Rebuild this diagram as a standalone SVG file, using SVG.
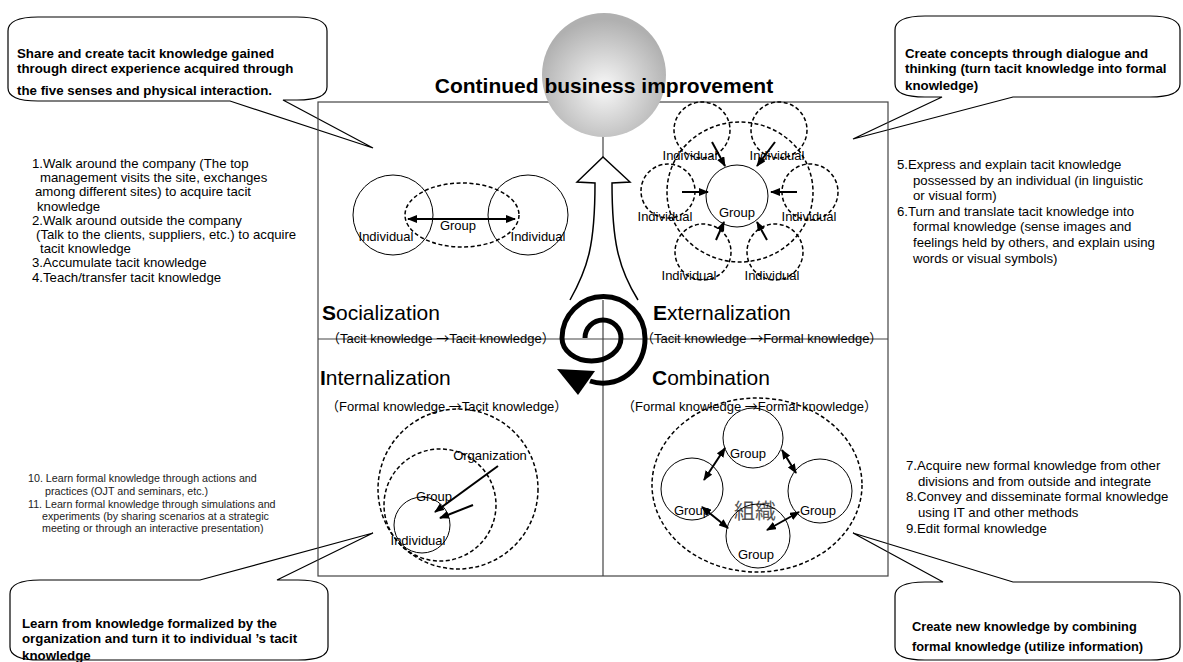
<svg xmlns="http://www.w3.org/2000/svg" width="1183" height="662" viewBox="0 0 1183 662">
<defs>
<style>
text{font-family:"Liberation Sans",Arial,sans-serif;fill:#000}
.b{font-weight:bold}
.c13{font-size:13.3px;font-weight:bold}
.lst{font-size:13.2px}
.sm{font-size:10.7px;fill:#222}
.lbl{font-size:13px;text-anchor:middle}
.q{font-size:21px}
.sub{font-size:13px;font-family:"Liberation Sans","Noto Sans CJK JP",sans-serif}
.cj{font-family:"Noto Sans CJK JP",sans-serif}
.solid{fill:none;stroke:#000;stroke-width:1}
.dash{fill:none;stroke:#000;stroke-width:1.5;stroke-dasharray:4 2.5}
.co{fill:#fff;stroke:#000;stroke-width:1.2}
.arr{fill:none;stroke:#000;stroke-width:2;marker-end:url(#ah)}
.darr{fill:none;stroke:#000;stroke-width:2;marker-end:url(#ah);marker-start:url(#ah)}
.fr{fill:none;stroke:#444;stroke-width:1.2}
</style>
<marker id="ah" viewBox="0 0 10 10" refX="9" refY="5" markerWidth="10" markerHeight="8" markerUnits="userSpaceOnUse" orient="auto-start-reverse" preserveAspectRatio="none"><path d="M0,0 L10,5 L0,10 z" fill="#000"/></marker>
<radialGradient id="sg" cx="50%" cy="60%" r="55%"><stop offset="0" stop-color="#f8f8f8"/><stop offset="1" stop-color="#b0b0b0"/></radialGradient>
</defs>
<rect width="1183" height="662" fill="#fff"/>

<g id="callout-tl">
<path class="co" d="M8,31 Q8,17 38,17 L297,17 Q327,17 327,31 L327,87 Q327,100 297,100 L283,100 L373,148 L230,101 L38,101 Q8,101 8,88 Z"/>
<text class="c13" x="17" y="58">Share and create tacit knowledge gained</text>
<text class="c13" x="17" y="73">through direct experience acquired through</text>
<text class="c13" x="17" y="95">the five senses and physical interaction.</text>
</g>
<g id="callout-tr">
<path class="co" d="M895,30 Q895,16 925,16 L1150,16 Q1180,16 1180,30 L1180,84 Q1180,97 1150,97 L1013,97 L853,139 L942,97 L925,97 Q895,97 895,84 Z"/>
<text class="c13" x="905" y="58">Create concepts through dialogue and</text>
<text class="c13" x="905" y="73">thinking (turn tacit knowledge into formal</text>
<text class="c13" x="905" y="90">knowledge)</text>
</g>
<g id="callout-bl">
<path class="co" d="M10,594 Q10,580 40,580 L200,580 L373,533 L277,580 L298,580 Q328,580 328,594 L328,647 Q328,660 298,660 L40,660 Q10,660 10,647 Z"/>
<text class="c13" x="22" y="628">Learn from knowledge formalized by the</text>
<text class="c13" x="22" y="643">organization and turn it to individual ’s tacit</text>
<text class="c13" x="22" y="660">knowledge</text>
</g>
<g id="callout-br">
<path class="co" d="M895,596 Q895,582 925,582 L943,582 L853,533 L1013,582 L1150,582 Q1180,582 1180,596 L1180,647 Q1180,660 1150,660 L925,660 Q895,660 895,647 Z"/>
<text class="b" style="font-size:12.8px" x="912" y="631">Create new knowledge by combining</text>
<text class="b" style="font-size:12.8px" x="912" y="651">formal knowledge (utilize information)</text>
</g>

<g id="frame">
<rect class="fr" x="318" y="102" width="570" height="474"/>
<line class="fr" x1="603" y1="102" x2="603" y2="576"/>
<line class="fr" x1="318" y1="339" x2="888" y2="339"/>
</g>

<g id="sphere">
<circle cx="604" cy="75" r="62" fill="url(#sg)"/>
</g>
<g id="title">
<text class="b" style="font-size:21px" x="604" y="93" text-anchor="middle">Continued business improvement</text>
</g>

<g id="big-arrow">
<path d="M570,300 C588,268 595,245 595,183 L577,182 L603,157 L630,182 L612,183 C612,240 618,268 638,300" fill="#fff" stroke="#000" stroke-width="1.5"/>
</g>

<g id="spiral">
<path d="M585,338 A18,18 0 0 1 621,338 A29.5,23 0 0 1 562,338 A41.5,41.5 0 0 1 645,338 A42,44 0 0 1 590,381" fill="none" stroke="#000" stroke-width="5"/>
<polygon points="557,369 595,371 578,395" fill="#000"/>
</g>

<g id="list-socialization">
<text class="lst" x="32" y="168">1.Walk around the company (The top</text>
<text class="lst" x="40" y="182.2">management visits the site, exchanges</text>
<text class="lst" x="35" y="196.4">among different sites) to acquire tacit</text>
<text class="lst" x="37" y="210.6">knowledge</text>
<text class="lst" x="32" y="224.8">2.Walk around outside the company</text>
<text class="lst" x="36" y="239">(Talk to the clients, suppliers, etc.) to acquire</text>
<text class="lst" x="40" y="253.2">tacit knowledge</text>
<text class="lst" x="32" y="267.4">3.Accumulate tacit knowledge</text>
<text class="lst" x="32" y="281.6">4.Teach/transfer tacit knowledge</text>
</g>
<g id="list-externalization">
<text class="lst" x="897" y="169">5.Express and explain tacit knowledge</text>
<text class="lst" x="913" y="184.6">possessed by an individual (in linguistic</text>
<text class="lst" x="913" y="200.2">or visual form)</text>
<text class="lst" x="897" y="215.8">6.Turn and translate tacit knowledge into</text>
<text class="lst" x="913" y="231.4">formal knowledge (sense images and</text>
<text class="lst" x="913" y="247">feelings held by others, and explain using</text>
<text class="lst" x="913" y="262.6">words or visual symbols)</text>
</g>
<g id="list-combination">
<text class="lst" x="906" y="470">7.Acquire new formal knowledge from other</text>
<text class="lst" x="918" y="485.7">divisions and from outside and integrate</text>
<text class="lst" x="906" y="501.4">8.Convey and disseminate formal knowledge</text>
<text class="lst" x="918" y="517">using IT and other methods</text>
<text class="lst" x="906" y="532.7">9.Edit formal knowledge</text>
</g>
<g id="list-internalization">
<text class="sm" x="28" y="482">10. Learn formal knowledge through actions and</text>
<text class="sm" x="45" y="494.5">practices (OJT and seminars, etc.)</text>
<text class="sm" x="28" y="508">11. Learn formal knowledge through simulations and</text>
<text class="sm" x="42" y="520">experiments (by sharing scenarios at a strategic</text>
<text class="sm" x="42" y="532">meeting or through an interactive presentation)</text>
</g>

<g id="quadrant-labels">
<text class="q" x="322" y="320"><tspan class="b">S</tspan>ocialization</text>
<text class="sub" x="327" y="343">（Tacit knowledge <tspan class="cj">→</tspan>Tacit knowledge）</text>
<text class="q" x="653" y="320"><tspan class="b">E</tspan>xternalization</text>
<text class="sub" x="641" y="343">（Tacit knowledge <tspan class="cj">→</tspan>Formal knowledge）</text>
<text class="q" x="320" y="385"><tspan class="b">I</tspan>nternalization</text>
<text class="sub" x="326" y="411">（Formal knowledge <tspan class="cj">→</tspan>Tacit knowledge）</text>
<text class="q" x="652" y="385"><tspan class="b">C</tspan>ombination</text>
<text class="sub" x="622" y="411">（Formal knowledge <tspan class="cj">→</tspan>Formal knowledge）</text>
</g>

<g id="soc-individual-left"><circle class="solid" cx="393" cy="215" r="40"/><text class="lbl" x="386" y="241">Individual</text></g>
<g id="soc-individual-right"><circle class="solid" cx="528" cy="215" r="40"/><text class="lbl" x="538" y="241">Individual</text></g>
<g id="soc-group"><ellipse class="dash" cx="462" cy="215" rx="57" ry="32"/><text class="lbl" x="458" y="230">Group</text></g>

<g id="ext-group"><ellipse class="dash" cx="740" cy="192" rx="73" ry="70"/><circle class="solid" cx="737" cy="196" r="31"/><text class="lbl" x="737" y="217">Group</text></g>
<g id="ext-ind-tl"><circle class="dash" cx="702" cy="130" r="28"/><text class="lbl" x="690" y="160">Individual</text></g>
<g id="ext-ind-tr"><circle class="dash" cx="779" cy="130" r="28"/><text class="lbl" x="777" y="160">Individual</text></g>
<g id="ext-ind-l"><circle class="dash" cx="668" cy="191" r="27"/><text class="lbl" x="665" y="221">Individual</text></g>
<g id="ext-ind-r"><circle class="dash" cx="810" cy="192" r="28"/><text class="lbl" x="809" y="221">Individual</text></g>
<g id="ext-ind-bl"><circle class="dash" cx="703" cy="252" r="28"/><text class="lbl" x="689" y="280">Individual</text></g>
<g id="ext-ind-br"><circle class="dash" cx="775" cy="252" r="28"/><text class="lbl" x="772" y="280">Individual</text></g>

<g id="int-organization"><circle class="dash" cx="458" cy="489" r="80"/><text class="lbl" x="490" y="460">Organization</text></g>
<g id="int-group"><circle class="dash" cx="440" cy="505" r="56"/><text class="lbl" x="434" y="501">Group</text></g>
<g id="int-individual"><circle class="solid" cx="422" cy="525" r="28"/><text class="lbl" x="418" y="545">Individual</text></g>

<g id="comb-organization"><ellipse class="dash" cx="757" cy="485" rx="105" ry="87"/><text class="cj" style="font-size:21px;fill:#555" x="755" y="518" text-anchor="middle">組織</text></g>
<g id="comb-group-top"><circle class="solid" cx="753" cy="438" r="30"/><text class="lbl" x="748" y="458">Group</text></g>
<g id="comb-group-left"><circle class="solid" cx="692" cy="489" r="31"/><text class="lbl" x="692" y="515">Group</text></g>
<g id="comb-group-right"><circle class="solid" cx="820" cy="491" r="32"/><text class="lbl" x="818" y="515">Group</text></g>
<g id="comb-group-bottom"><circle class="solid" cx="758" cy="536" r="32"/><text class="lbl" x="756" y="559">Group</text></g>

<g id="connectors">
<line class="darr" x1="408" y1="219" x2="515" y2="219"/>
<line class="arr" x1="712" y1="142" x2="725" y2="166"/>
<line class="arr" x1="775" y1="142" x2="757" y2="166"/>
<line class="arr" x1="682" y1="192" x2="708" y2="192"/>
<line class="arr" x1="797" y1="192" x2="771" y2="192"/>
<line class="arr" x1="716" y1="240" x2="724" y2="222"/>
<line class="arr" x1="767" y1="240" x2="757" y2="222"/>
<line class="arr" x1="498" y1="466" x2="435" y2="512"/>
<line class="arr" x1="473" y1="505" x2="440" y2="518"/>
<line class="darr" x1="725" y1="448" x2="704" y2="480"/>
<line class="darr" x1="782" y1="450" x2="796" y2="473"/>
<line class="darr" x1="702" y1="507" x2="728" y2="528"/>
<line class="darr" x1="799" y1="512" x2="767" y2="530"/>
</g>
</svg>
